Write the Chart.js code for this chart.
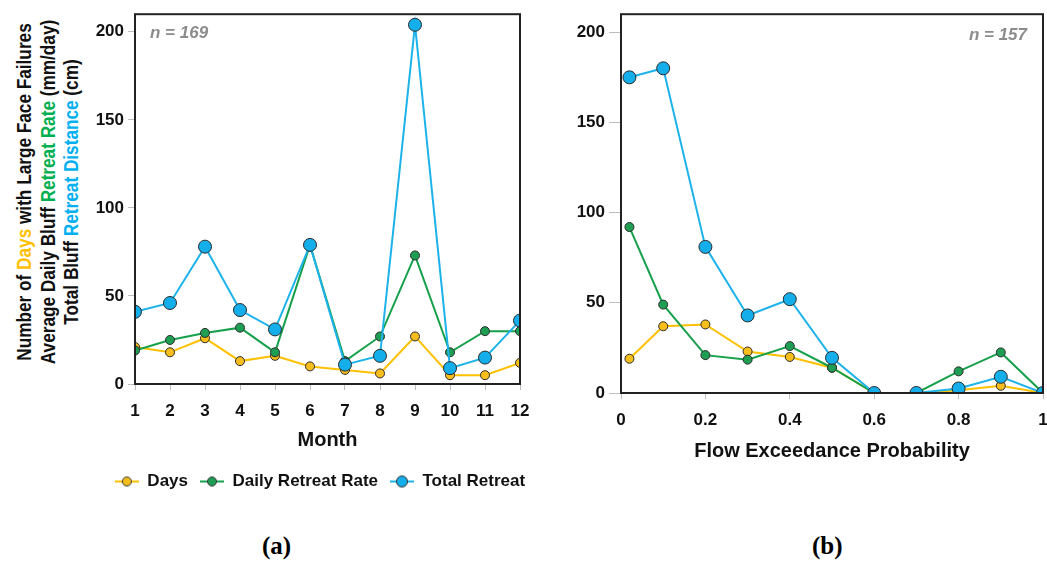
<!DOCTYPE html>
<html>
<head>
<meta charset="utf-8">
<script src="https://cdn.jsdelivr.net/npm/chart.js"></script>
<style>
  body { margin: 0; width: 1047px; height: 577px; overflow: hidden; background: #fff; position: relative; }
  canvas { position: absolute; top: 0; }
  #chartA { left: 90px; }
  #chartB { left: 565px; }
  .ytitle {
    position: absolute; left: 48px; top: 192px;
    transform: translate(-50%, -50%) rotate(-90deg) scaleX(0.86);
    white-space: nowrap; text-align: center; color: #111;
    font: bold 20px/23.5px "Liberation Sans", Arial, sans-serif;
  }
  .cap { position: absolute; top: 532px; font: bold 25px "Liberation Serif", "Times New Roman", serif; color: #000; }
</style>
</head>
<body>
<canvas id="chartA" width="460" height="500"></canvas>
<canvas id="chartB" width="495" height="480"></canvas>
<div class="ytitle">
  Number of <span style="color:#FFC000">Days</span> with Large Face Failures<br>
  Average Daily Bluff <span style="color:#00B050">Retreat Rate</span> (mm/day)<br>
  Total Bluff <span style="color:#00B0F0">Retreat Distance</span> (cm)
</div>
<div class="cap" style="left:262px">(a)</div>
<div class="cap" style="left:812px">(b)</div>
<script>
// (a) by month
const months = [1, 2, 3, 4, 5, 6, 7, 8, 9, 10, 11, 12];
const daysByMonth  = [21, 18, 26, 13, 16, 10, 8, 6, 27, 5, 5, 12];
const rateByMonth  = [19, 25, 29, 32, 18, 79, 13, 27, 73, 18, 30, 30];
const totalByMonth = [41, 46, 78, 42, 31, 79, 11, 16, 204, 9, 15, 36];

// (b) by flow exceedance probability
const flowProb = [0.02, 0.1, 0.2, 0.3, 0.4, 0.5, 0.6, 0.7, 0.8, 0.9, 1];
const daysByFlow  = [19, 37, 38, 23, 20, 14, 0, 0, 1.5, 4, 0];
const rateByFlow  = [92, 49, 21, 18.5, 26, 14, 0, 0, 12, 22.5, 0];
const totalByFlow = [175, 180, 81, 43, 52, 19.5, 0, 0, 2.5, 9, 0];

const yTicks = [0, 50, 100, 150, 200];
const monthTicks = months;
const flowTicks = [0, 0.2, 0.4, 0.6, 0.8, 1];

const seriesNames = ['Days', 'Daily Retreat Rate', 'Total Retreat'];

const SANS = '"Liberation Sans", Arial, sans-serif';
const styles = [
  { line: '#FFC000', fill: '#F8BE1C', r: 4.5 },
  { line: '#17A04C', fill: '#1E9E52', r: 4.5 },
  { line: '#1DB3EA', fill: '#14AEEA', r: 6.5 }
];

// small line+marker swatch for the legend
function swatch(s) {
  const c = document.createElement('canvas');
  c.width = 24; c.height = 14;
  const g = c.getContext('2d');
  g.strokeStyle = s.line; g.lineWidth = 2;
  g.beginPath(); g.moveTo(0, 7); g.lineTo(24, 7); g.stroke();
  g.fillStyle = s.fill; g.strokeStyle = '#333'; g.lineWidth = 1;
  g.beginPath(); g.arc(12, 7, s.r > 5 ? 5.5 : 4.5, 0, Math.PI * 2); g.fill(); g.stroke();
  return c;
}

// frame round the plot area + the "n =" note
const frame = {
  id: 'frame',
  afterDraw(chart, args, opts) {
    const { ctx, chartArea: a } = chart;
    ctx.save();
    ctx.strokeStyle = '#222';
    ctx.lineWidth = 2;
    ctx.strokeRect(a.left, a.top, a.right - a.left, a.bottom - a.top);
    ctx.fillStyle = '#8c8c8c';
    ctx.font = 'italic bold 17px ' + SANS;
    ctx.textBaseline = 'middle';
    ctx.textAlign = opts.align;
    const x = opts.align === 'left' ? a.left + 15 : a.right - 16;
    ctx.fillText(opts.note, x, a.top + opts.dy);
    ctx.restore();
  }
};

function makeChart(id, xs, ys, cfg) {
  const datasets = ys.map((vals, i) => ({
    label: seriesNames[i],
    data: xs.map((x, j) => ({ x: x, y: vals[j] })),
    borderColor: styles[i].line,
    backgroundColor: styles[i].fill,
    pointBackgroundColor: styles[i].fill,
    pointBorderColor: '#2b2b2b',
    pointBorderWidth: 1,
    pointRadius: styles[i].r,
    borderWidth: 2,
    tension: 0,
    order: 3 - i
  }));
  return new Chart(document.getElementById(id), {
    type: 'line',
    data: { datasets: datasets },
    plugins: [frame],
    options: {
      responsive: false,
      animation: false,
      layout: { padding: { top: cfg.padTop, right: 0, left: 0, bottom: 0 } },
      plugins: {
        frame: { note: cfg.note, align: cfg.noteAlign, dy: cfg.noteDy },
        tooltip: { enabled: false },
        legend: {
          display: cfg.legend,
          position: 'bottom',
          labels: {
            usePointStyle: true,
            pointStyleWidth: 24,
            padding: 12,
            color: '#111',
            font: { family: SANS, size: 17, weight: 'bold' },
            generateLabels(chart) {
              return Chart.defaults.plugins.legend.labels.generateLabels(chart)
                .sort((a, b) => a.datasetIndex - b.datasetIndex)
                .map(item => Object.assign(item, { pointStyle: swatch(styles[item.datasetIndex]) }));
            }
          }
        }
      },
      scales: {
        x: {
          type: 'linear',
          min: cfg.xMin, max: cfg.xMax,
          afterFit(s) { s.height = cfg.xHeight; },
          afterBuildTicks(s) { s.ticks = cfg.xTicks.map(v => ({ value: v })); },
          grid: { display: true, drawOnChartArea: false, tickLength: 6, color: '#bdbdbd' },
          border: { display: false },
          ticks: {
            padding: 11, color: '#111',
            font: { family: SANS, size: 17, weight: 'bold' },
            callback: v => String(Math.round(v * 10) / 10)
          },
          title: {
            display: true, text: cfg.xTitle, color: '#111',
            font: { family: SANS, size: 20, weight: 'bold', lineHeight: 1 },
            padding: { top: 0, bottom: cfg.titlePad }
          }
        },
        y: {
          min: 0, max: 210,
          afterFit(s) { s.width = cfg.yWidth; },
          afterBuildTicks(s) { s.ticks = yTicks.map(v => ({ value: v })); },
          grid: { display: true, drawOnChartArea: false, tickLength: cfg.yTickLen, color: '#bdbdbd' },
          border: { display: false },
          ticks: { padding: 4, color: '#111', font: { family: SANS, size: 17, weight: 'bold' } }
        },
        // empty spacer on the right so the legend can use the whole canvas width
        gap: {
          type: 'linear', position: 'right', display: true,
          afterFit(s) { s.width = cfg.rightGap; },
          grid: { display: false }, border: { display: false }, ticks: { display: false }
        }
      }
    }
  });
}

makeChart('chartA', months, [daysByMonth, rateByMonth, totalByMonth], {
  padTop: 13, rightGap: 30, yWidth: 45, xHeight: 77, titlePad: 11,
  xMin: 1, xMax: 12, xTicks: monthTicks, xTitle: 'Month', yTickLen: 7,
  legend: true, note: 'n = 169', noteAlign: 'left', noteDy: 19
});

makeChart('chartB', flowProb, [daysByFlow, rateByFlow, totalByFlow], {
  padTop: 14, rightGap: 17, yWidth: 56, xHeight: 87, titlePad: 19,
  xMin: 0, xMax: 1, xTicks: flowTicks, xTitle: 'Flow Exceedance Probability', yTickLen: 12,
  legend: false, note: 'n = 157', noteAlign: 'right', noteDy: 21
});
</script>
</body>
</html>
